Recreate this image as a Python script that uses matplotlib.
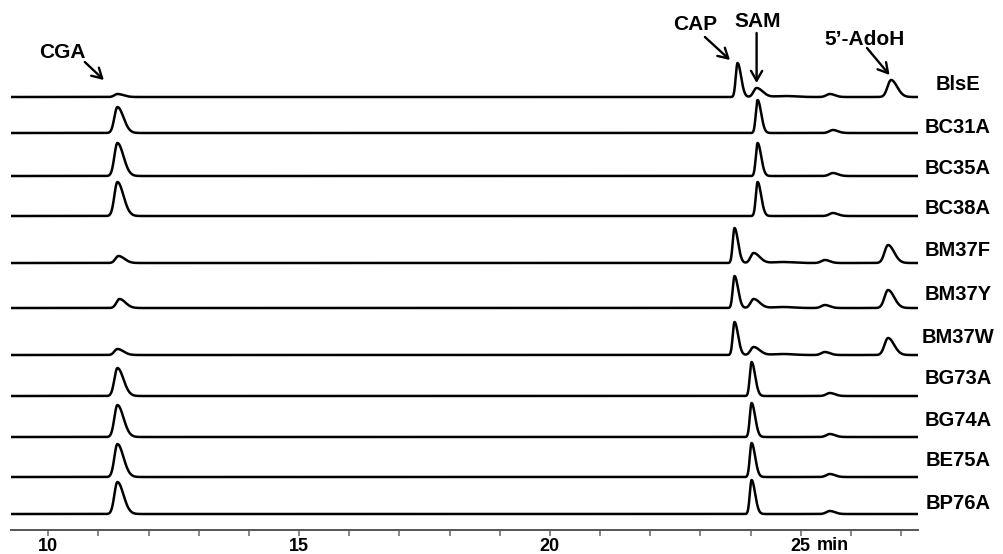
import numpy as np
import matplotlib
matplotlib.use("Agg")
import matplotlib.pyplot as plt

plt.rcParams['font.family'] = ['Liberation Sans', 'DejaVu Sans']

samples = ['BlsE', 'BC31A', 'BC35A', 'BC38A', 'BM37F', 'BM37Y', 'BM37W',
           'BG73A', 'BG74A', 'BE75A', 'BP76A']
# baseline of each trace (pixel units above the time axis)
offsets = [433, 397, 354, 314, 267, 222, 175, 134, 93, 53, 16]
# vertical position of each sample name
name_y = [446, 403, 362, 322, 280, 236, 193, 152, 110, 70, 27]

# peaks per trace: (retention time, height, left sigma, right sigma)
peaks = {
    'BlsE':  [(11.38, 3, 0.06, 0.12), (23.74, 34, 0.035, 0.07), (24.12, 9, 0.06, 0.12),
              (24.7, 1, 0.2, 0.2), (25.58, 3, 0.07, 0.1), (26.80, 17, 0.07, 0.12)],
    'BC31A': [(11.38, 26, 0.06, 0.12), (24.14, 33, 0.035, 0.07), (25.64, 3, 0.07, 0.1)],
    'BC35A': [(11.38, 33, 0.06, 0.12), (24.14, 33, 0.035, 0.07), (25.64, 3, 0.07, 0.1)],
    'BC38A': [(11.38, 34, 0.06, 0.12), (24.14, 34, 0.035, 0.07), (25.64, 3, 0.07, 0.1)],
    'BM37F': [(11.40, 7, 0.06, 0.12), (23.68, 35, 0.035, 0.07), (24.06, 10, 0.06, 0.12),
              (24.65, 1, 0.2, 0.2), (25.48, 3, 0.07, 0.1), (26.74, 18, 0.07, 0.12)],
    'BM37Y': [(11.42, 9, 0.06, 0.12), (23.68, 32, 0.035, 0.07), (24.06, 9, 0.06, 0.12),
              (24.65, 1, 0.2, 0.2), (25.48, 3, 0.07, 0.1), (26.74, 18, 0.07, 0.12)],
    'BM37W': [(11.38, 6, 0.06, 0.12), (23.68, 33, 0.035, 0.07), (24.06, 8, 0.06, 0.12),
              (24.65, 1, 0.2, 0.2), (25.48, 3, 0.07, 0.1), (26.74, 17, 0.07, 0.12)],
    'BG73A': [(11.38, 28, 0.06, 0.12), (24.02, 34, 0.035, 0.07), (25.58, 3, 0.07, 0.1)],
    'BG74A': [(11.38, 32, 0.06, 0.12), (24.02, 34, 0.035, 0.07), (25.58, 3, 0.07, 0.1)],
    'BE75A': [(11.38, 33, 0.06, 0.12), (24.02, 34, 0.035, 0.07), (25.58, 3, 0.07, 0.1)],
    'BP76A': [(11.38, 32, 0.06, 0.12), (24.02, 34, 0.035, 0.07), (25.58, 3, 0.07, 0.1)],
}

# peak labels: text, text position, arrow start, arrow end
labels = [
    ('CGA', (10.28, 478), (10.73, 468), (11.11, 450)),
    ('CAP', (22.89, 506), (23.09, 493), (23.59, 470)),
    ('SAM', (24.14, 509), (24.12, 497), (24.12, 447)),
    ("5\u2019-AdoH", (26.28, 491), (26.32, 482), (26.77, 455)),
]

t = np.linspace(9.26, 27.33, 4000)


def trace(plist):
    y = np.zeros_like(t)
    for pos, h, sl, sr in plist:
        s = np.where(t < pos, sl, sr)
        y += h * np.exp(-0.5 * ((t - pos) / s) ** 2)
    return y


fig = plt.figure(figsize=(10.04, 5.54), dpi=100)
ax = fig.add_axes([0.011, 0.0433, 0.903, 0.9567])

for name, off, ny in zip(samples, offsets, name_y):
    ax.plot(t, off + trace(peaks[name]), color='black', lw=1.8)
    ax.text(28.13, ny, name, fontsize=14.5, fontweight='bold', va='center', ha='center',
            clip_on=False)

ax.set_xlim(9.26, 27.33)
ax.set_ylim(0, 530)
for s in ['left', 'right', 'top']:
    ax.spines[s].set_visible(False)
ax.spines['bottom'].set_linewidth(1.4)
ax.spines['bottom'].set_color('#555555')
ax.set_yticks([])
ax.set_xticks([10, 15, 20, 25])
ax.set_xticks(np.arange(10, 28, 1), minor=True)
ax.tick_params(axis='x', which='both', direction='out', length=4, width=1.1,
               color='#666666', pad=2)
ax.set_xticklabels(['10', '15', '20', '25'], fontsize=13, fontweight='bold')
ax.text(25.64, -7, 'min', fontsize=13, fontweight='bold', ha='center', va='top')

arrow = dict(arrowstyle='->, head_length=0.7, head_width=0.4', lw=1.7, color='black',
             shrinkA=0, shrinkB=0)
for txt, tpos, a0, a1 in labels:
    ax.text(tpos[0], tpos[1], txt, fontsize=15, fontweight='bold', ha='center', va='center')
    ax.annotate('', xy=a1, xytext=a0, arrowprops=arrow)

fig.savefig('out.png', dpi=100)
